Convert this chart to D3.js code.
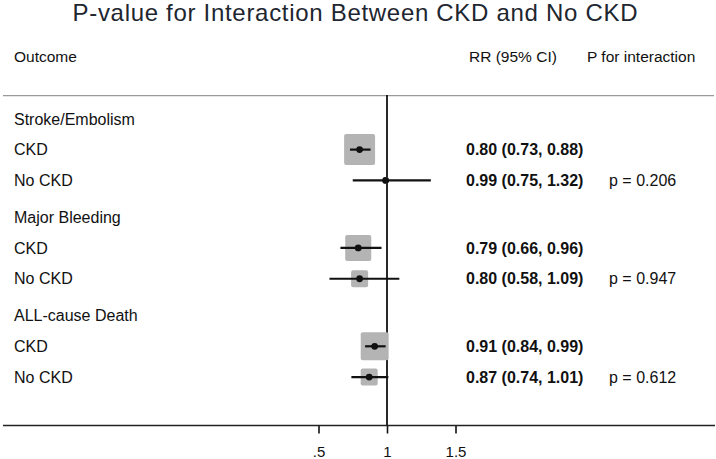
<!DOCTYPE html>
<html>
<head>
<meta charset="utf-8">
<script src="https://cdn.jsdelivr.net/npm/d3@7"></script>
<style>
  html, body { margin: 0; padding: 0; background: #fff; }
  svg { display: block; font-family: "Liberation Sans", Arial, sans-serif; }
</style>
</head>
<body>
<svg id="chart" width="716" height="459"></svg>
<script>
// ---- data ----
const title = "P-value for Interaction Between CKD and No CKD";
const outcomes = ["Stroke/Embolism", "Major Bleeding", "ALL-cause Death"];
const subgroups = ["CKD", "No CKD"];
const rr    = [0.80, 0.99, 0.79, 0.80, 0.91, 0.87];
const lower = [0.73, 0.75, 0.66, 0.58, 0.84, 0.74];
const upper = [0.88, 1.32, 0.96, 1.09, 0.99, 1.01];
const weights = [96, 4, 68, 29, 78, 29];
const pInteraction = [0.206, 0.947, 0.612];
const xTicks = [0.5, 1, 1.5];
const xTickLabels = [".5", "1", "1.5"];
const headers = ["Outcome", "RR (95% CI)", "P for interaction"];

// ---- layout ----
const W = 716, H = 459;
const svg = d3.select("#chart");
const x = d3.scaleLinear().domain([0.5, 1.5]).range([318.5, 455.5]);
const size = d3.scaleSqrt().domain([0, 100]).range([0, 31.6]);
// slot scale: group g, row r (0 = header, 1 = CKD, 2 = No CKD)
const groupY = d3.scaleLinear().domain([0, 2]).range([118.8, 315.5]);
const rowStep = 30.8;
const yOf = (g, r) => groupY(g) + r * rowStep;
const base = 5.7; // baseline offset for 16px text centred on y
const axisY = 425.5;
const ink = "#111";

const fmt = d3.format(".2f");

// title
svg.append("text")
  .attr("x", 355).attr("y", 21)
  .attr("text-anchor", "middle")
  .attr("font-size", 24)
  .attr("textLength", 565)
  .attr("lengthAdjust", "spacing")
  .attr("fill", "#1e2630")
  .text(title);

// headers
const headerX = [14, 469, 587];
headers.forEach((h, i) => {
  svg.append("text")
    .attr("x", headerX[i]).attr("y", 62)
    .attr("font-size", 15.5)
    .attr("fill", ink)
    .text(h);
});

// top separator
svg.append("line")
  .attr("x1", 3).attr("x2", 714)
  .attr("y1", 95.7).attr("y2", 95.7)
  .attr("stroke", "#9a9a9a").attr("stroke-width", 1.2);

// reference line at 1
svg.append("line")
  .attr("x1", x(1)).attr("x2", x(1))
  .attr("y1", 95).attr("y2", axisY)
  .attr("stroke", ink).attr("stroke-width", 1.8);

// rows
const rows = [];
outcomes.forEach((o, g) => {
  svg.append("text")
    .attr("x", 14).attr("y", yOf(g, 0) + base)
    .attr("font-size", 16).attr("fill", ink)
    .text(o);
  subgroups.forEach((s, j) => {
    const i = g * 2 + j;
    rows.push({ g, j, i, label: s, rr: rr[i], lo: lower[i], hi: upper[i], w: weights[i], y: yOf(g, j + 1) });
  });
});

const rg = svg.append("g").selectAll("g").data(rows).join("g");

rg.append("text")
  .attr("x", 14).attr("y", d => d.y + base)
  .attr("font-size", 16).attr("fill", ink)
  .text(d => d.label);

rg.append("rect")
  .attr("x", d => x(d.rr) - size(d.w) / 2)
  .attr("y", d => d.y - size(d.w) / 2)
  .attr("width", d => size(d.w))
  .attr("height", d => size(d.w))
  .attr("rx", 2)
  .attr("fill", "#b4b4b4");

rg.append("line")
  .attr("x1", d => x(d.lo)).attr("x2", d => x(d.hi))
  .attr("y1", d => d.y).attr("y2", d => d.y)
  .attr("stroke", ink).attr("stroke-width", 2.2);

rg.append("circle")
  .attr("cx", d => x(d.rr)).attr("cy", d => d.y)
  .attr("r", 3.4).attr("fill", ink);

rg.append("text")
  .attr("x", 466).attr("y", d => d.y + base)
  .attr("font-size", 16).attr("font-weight", "bold").attr("fill", ink)
  .text(d => `${fmt(d.rr)} (${fmt(d.lo)}, ${fmt(d.hi)})`);

rg.filter(d => d.j === 1).append("text")
  .attr("x", 609).attr("y", d => d.y + base)
  .attr("font-size", 16).attr("fill", ink)
  .text(d => `p = ${d3.format(".3f")(pInteraction[d.g])}`);

// x axis
const axis = d3.axisBottom(x)
  .tickValues(xTicks)
  .tickFormat((d, i) => xTickLabels[i])
  .tickSize(8)
  .tickSizeOuter(0);
const ax = svg.append("g")
  .attr("transform", `translate(0,${axisY})`)
  .call(axis);
ax.select(".domain").remove();
ax.selectAll(".tick line").attr("stroke", ink).attr("stroke-width", 1.6);
ax.selectAll(".tick text")
  .attr("y", 0).attr("dy", 0)
  .attr("transform", "translate(0,31.5)")
  .attr("font-size", 15)
  .attr("font-family", "Liberation Sans, Arial, sans-serif")
  .attr("fill", ink);
svg.append("line")
  .attr("x1", 3).attr("x2", 715)
  .attr("y1", axisY).attr("y2", axisY)
  .attr("stroke", "#222").attr("stroke-width", 1.6);
</script>
</body>
</html>
